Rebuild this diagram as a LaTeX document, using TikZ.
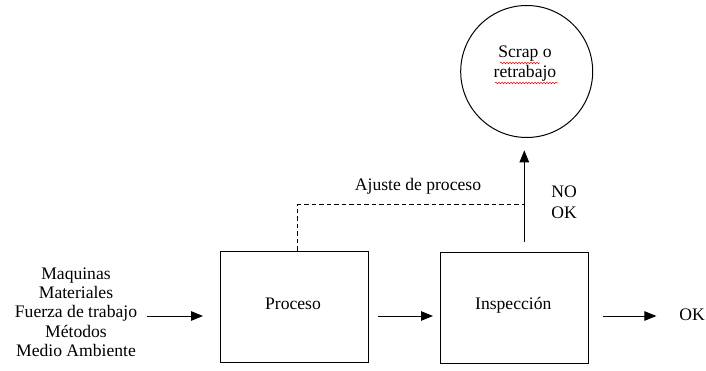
\documentclass[tikz,border=0pt]{standalone}
\usepackage{fontspec}
\setmainfont{Liberation Serif}
\newfontfamily\labelfont{Liberation Serif}
\usetikzlibrary{arrows.meta,decorations.pathmorphing}

\begin{document}
\begin{tikzpicture}[x=1pt,y=-1pt,
  every node/.style={font=\labelfont\fontsize{17.6}{19.3}\selectfont, inner sep=0pt},
  stage/.style={draw, line width=1pt, minimum width=148pt},
  arr/.style={line width=1pt, -{Triangle[length=12pt,width=9.5pt]}},
  feedback/.style={line width=1pt, dash pattern=on 4.5pt off 3pt},
  spell/.style={red, line width=0.5pt, decorate,
    decoration={snake, amplitude=0.8pt, segment length=3pt}}]
\useasboundingbox (0,0) rectangle (706,371);

% blocks
\node[stage, minimum height=111.7pt] (proc) at (294.2,306.9) {};
\node at (293,304) {Proceso};
\node[stage, minimum height=111.3pt] (insp) at (514.9,308.3) {};
\node at (513.3,305.7) {Inspección};
\node[draw, circle, line width=1pt, minimum size=132pt] (scrap) at (526.7,71.5) {};

% texts
\node[align=center] (inputs) at (76,312)
  {Maquinas\\Materiales\\Fuerza de trabajo\\Métodos\\Medio Ambiente};
\node[align=center, font=\labelfont\fontsize{17.6}{20}\selectfont] (scraptxt) at (525,64)
  {Scrap o\\retrabajo};
\node (ajuste) at (418,186) {Ajuste de proceso};
\node[align=left, font=\labelfont\fontsize{17.6}{21}\selectfont] (nook) at (564,202) {NO\\OK};
\node (ok) at (692,315) {OK};

% spelling marks under the circle text
\draw[spell] (500,63) -- (540,63);
\draw[spell] (495,83) -- (558,83);

% main flow, all on one level
\coordinate (flow) at (0,316);
\draw[arr] ([xshift=9.5pt]inputs.east |- flow) -- ([xshift=-16.7pt]proc.west |- flow);
\draw[arr] ([xshift=9.4pt]proc.east |- flow) -- ([xshift=-7.4pt]insp.west |- flow);
\draw[arr] ([xshift=13.7pt]insp.east |- flow) -- ([xshift=-22.7pt]ok.west |- flow);

% rejection path to scrap
\coordinate (up) at ([xshift=9.4pt,yshift=10pt]insp.north);
\draw[arr, shorten >=12.3pt] (up) -- (up |- scrap.south);

% process adjustment feedback
\draw[feedback] ([xshift=3pt]proc.north) |- (up |- 0,205);
\end{tikzpicture}
\end{document}
